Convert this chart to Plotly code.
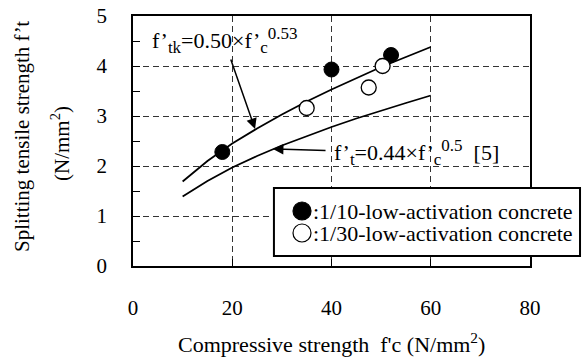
import plotly.graph_objects as go

# ---- data ----
fc_curve = [10, 15, 20, 25, 30, 35, 40, 45, 50, 55, 60]
ftk_upper = [1.69, 2.10, 2.45, 2.75, 3.03, 3.29, 3.53, 3.76, 3.98, 4.18, 4.38]   # f'tk = 0.50 f'c^0.53
ft_lower = [1.39, 1.70, 1.97, 2.20, 2.41, 2.60, 2.78, 2.95, 3.11, 3.26, 3.41]    # f't = 0.44 f'c^0.5 [5]

fc_110 = [18, 40, 52]
ft_110 = [2.28, 3.93, 4.22]
fc_130 = [35, 47.5, 50.3]
ft_130 = [3.16, 3.57, 4.0]

x_ticks = [0, 20, 40, 60, 80]
y_ticks = [0, 1, 2, 3, 4, 5]

legend_labels = [":1/10-low-activation concrete", ":1/30-low-activation concrete"]
legend_fills = ["black", "white"]

FONT = "Liberation Serif"

fig = go.Figure()
fig.add_trace(go.Scatter(x=fc_curve, y=ftk_upper, mode="lines",
                         line=dict(color="black", width=1.8), showlegend=False))
fig.add_trace(go.Scatter(x=fc_curve, y=ft_lower, mode="lines",
                         line=dict(color="black", width=1.8), showlegend=False))
fig.add_trace(go.Scatter(x=fc_110, y=ft_110, mode="markers", showlegend=False,
                         name="1/10-low-activation concrete",
                         marker=dict(symbol="circle", size=15, color="black",
                                     line=dict(color="black", width=1))))
fig.add_trace(go.Scatter(x=fc_130, y=ft_130, mode="markers", showlegend=False,
                         name="1/30-low-activation concrete",
                         marker=dict(symbol="circle", size=15, color="white",
                                     line=dict(color="black", width=1.3))))

axis_common = dict(showline=True, linecolor="black", linewidth=1.8, mirror=True,
                   showgrid=True, gridcolor="#333", gridwidth=1, griddash="6px,4px",
                   zeroline=False, ticks="inside", tickcolor="black", ticklen=7,
                   automargin=False,
                   tickfont=dict(family=FONT, size=21, color="black"))

fig.update_xaxes(range=[0, 80], tickvals=x_ticks, ticklabelstandoff=22, **axis_common)
fig.update_yaxes(range=[0, 5], tickvals=y_ticks, ticklabelstandoff=20,
                 minor=dict(dtick=0.5, ticks="inside", ticklen=7, tickcolor="black",
                            showgrid=False),
                 **axis_common)

SUB = "<sub><span style='font-size:17px'>{}</span></sub>"
SUP = "<sup><span style='font-size:17px'>{}</span></sup>"

ann = []
ann.append(dict(text="f’" + SUB.format("tk") + "=0.50×f’" + SUB.format("c") + SUP.format("0.53"),
                x=3.4, y=4.52, xref="x", yref="y", xanchor="left", yanchor="middle",
                showarrow=False, font=dict(family=FONT, size=22, color="black")))
ann.append(dict(text="", x=24.6, y=2.74, ax=19.6, ay=4.16, xref="x", yref="y",
                axref="x", ayref="y", showarrow=True, arrowhead=2, arrowsize=1.4,
                arrowwidth=1.5, arrowcolor="black"))
ann.append(dict(text="f’" + SUB.format("t") + "=0.44×f’" + SUB.format("c") + SUP.format("0.5") + "  [5]",
                x=40.1, y=2.28, xref="x", yref="y", xanchor="left", yanchor="middle",
                showarrow=False, font=dict(family=FONT, size=22, color="black")))
ann.append(dict(text="", x=28.2, y=2.34, ax=39.1, ay=2.31, xref="x", yref="y",
                axref="x", ayref="y", showarrow=True, arrowhead=2, arrowsize=1.4,
                arrowwidth=1.5, arrowcolor="black"))
# axis titles
ann.append(dict(text="Splitting tensile strength f’t", textangle=-90,
                x=-0.2796, y=0.52, xref="paper", yref="paper",
                xanchor="center", yanchor="middle", showarrow=False,
                font=dict(family=FONT, size=21, color="black")))
ann.append(dict(text="(N/mm<sup>2</sup>)", textangle=-90,
                x=-0.1839, y=0.492, xref="paper", yref="paper",
                xanchor="center", yanchor="middle", showarrow=False,
                font=dict(family=FONT, size=21, color="black")))
ann.append(dict(text="Compressive strength  f'c (N/mm<sup>2</sup>)",
                x=0.501, y=-0.308, xref="paper", yref="paper",
                xanchor="center", yanchor="middle", showarrow=False,
                font=dict(family=FONT, size=22, color="black")))

shapes = [dict(type="rect", xref="paper", yref="paper",
               x0=0.355, x1=1.126, y0=0.04, y1=0.312,
               line=dict(color="black", width=2), fillcolor="white", layer="above")]

# legend entries (symbol + label)
for lbl, fill, yp in zip(legend_labels, legend_fills, [0.22, 0.132]):
    shapes.append(dict(type="circle", xref="paper", yref="paper",
                       xsizemode="pixel", ysizemode="pixel",
                       xanchor=0.4257, yanchor=yp, x0=-9, x1=9, y0=-9, y1=9,
                       line=dict(color="black", width=1.2), fillcolor=fill, layer="above"))
    ann.append(dict(text=lbl, x=0.449, y=yp, xref="paper", yref="paper",
                    xanchor="left", yanchor="middle", showarrow=False,
                    font=dict(family=FONT, size=22, color="black")))

fig.update_layout(
    width=582, height=362,
    margin=dict(l=133, r=52, t=16, b=96),
    paper_bgcolor="white", plot_bgcolor="white",
    font=dict(family=FONT, color="black"),
    annotations=ann,
    shapes=shapes,
    showlegend=False,
)

fig.write_html("out.html", config={"displayModeBar": False},
               post_script="document.body.style.margin='0px';")
